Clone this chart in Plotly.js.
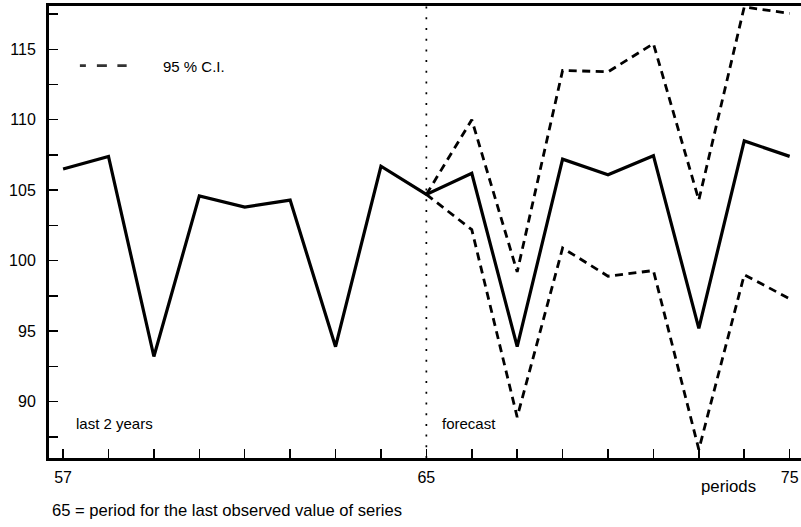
<!DOCTYPE html>
<html>
<head>
<meta charset="utf-8">
<script src="https://cdn.plot.ly/plotly-3.0.1.min.js"></script>
<style>
html,body{margin:0;padding:0;background:#fff;overflow:hidden;}
#wrap{position:relative;width:801px;height:527px;overflow:hidden;}
#chart{width:812px;height:527px;}
#edge{position:absolute;left:796px;top:12px;width:6px;height:443px;background:#fff;}
</style>
</head>
<body>
<div id="wrap"><div id="chart"></div><div id="edge"></div></div>
<script>
// Periods (index positions on the axis) and tick labels
const periods = [0,1,2,3,4,5,6,7,8,9,10,11,12,13,14,15,16];
const tickLabels = ['57','','','','','','','','65','','','','','','','','75'];
const forecastPeriods = [8,9,10,11,12,13,14,15,16];

// Observed (last 2 years) + point forecast
const series = [106.5,107.4,93.2,104.6,103.8,104.3,93.9,106.7,104.7,106.2,93.9,107.2,106.1,107.45,95.2,108.5,107.4];
// 95 % confidence interval bounds
const upperCI = [104.7,110.0,99.2,113.5,113.4,115.4,104.3,118.0,117.55];
const lowerCI = [104.7,102.2,88.9,100.9,98.9,99.3,86.6,99.0,97.3];

const lastObserved = 8;
const yTicks = [90,95,100,105,110,115];

const FONT = 'Liberation Sans, Arial, Helvetica, sans-serif';
const DASH = '8px,5.5px';

const traces = [
  {x: periods, y: series, type:'scatter', mode:'lines', name:'series',
   line:{color:'#000', width:3.2}, showlegend:false, hoverinfo:'skip'},
  {x: forecastPeriods, y: upperCI, type:'scatter', mode:'lines', name:'95 % C.I.',
   line:{color:'#000', width:2.8, dash:DASH}, showlegend:false, hoverinfo:'skip'},
  {x: forecastPeriods, y: lowerCI, type:'scatter', mode:'lines', name:'95 % C.I. lower',
   line:{color:'#000', width:2.8, dash:DASH}, showlegend:false, hoverinfo:'skip'}
];

const layout = {
  width:812, height:527,
  margin:{l:49, r:6, t:6, b:69},
  paper_bgcolor:'#fff', plot_bgcolor:'#fff',
  font:{family:FONT, color:'#000', size:16},
  showlegend:false,
  xaxis:{
    range:[-0.31, 16.36],
    tickvals: periods, ticktext: tickLabels,
    ticks:'inside', ticklen:9, tickwidth:1.5, tickcolor:'#000',
    ticklabelstandoff:3,
    showline:true, linewidth:3, linecolor:'#000', mirror:true,
    showgrid:false, zeroline:false,
    tickfont:{size:16, family:FONT}
  },
  yaxis:{
    range:[86.0, 118.07],
    tickvals: yTicks,
    ticks:'inside', ticklen:9, tickwidth:1.5, tickcolor:'#000',
    ticklabelstandoff:7,
    minor:{dtick:2.5, tick0:0, ticks:'inside', ticklen:9, tickwidth:1.5, tickcolor:'#000', showgrid:false},
    showline:true, linewidth:3, linecolor:'#000',
    showgrid:false, zeroline:false,
    tickfont:{size:16, family:FONT}
  },
  shapes:[
    {type:'line', xref:'x', yref:'paper', x0:lastObserved, x1:lastObserved, y0:0, y1:1,
     line:{color:'#000', width:1.7, dash:'2px,8.7px'}},
    {type:'line', xref:'x', yref:'paper', x0:0.37, x1:1.40, y0:0.868, y1:0.868,
     line:{color:'#333', width:2.8, dash:'6px,11px,10px,10.5px,10px,10px'}}
  ],
  annotations:[
    {text:'95 % C.I.', xref:'x', yref:'paper', x:2.16, y:0.866, xanchor:'left', yanchor:'middle',
     showarrow:false, font:{size:15}},
    {text:'last 2 years', xref:'x', yref:'paper', x:0.25, y:0.077, xanchor:'left', yanchor:'middle',
     showarrow:false, font:{size:15}},
    {text:'forecast', xref:'x', yref:'paper', x:8.3, y:0.077, xanchor:'left', yanchor:'middle',
     showarrow:false, font:{size:15}},
    {text:'periods', xref:'x', yref:'paper', x:14.66, y:-0.062, xanchor:'center', yanchor:'middle',
     showarrow:false, font:{size:16.8}},
    {text:'65 = period for the last observed value of series', xref:'paper', yref:'paper', x:0.0, y:-0.117,
     xanchor:'left', yanchor:'middle', xshift:1, showarrow:false, font:{size:16.6}}
  ]
};

Plotly.newPlot('chart', traces, layout, {displayModeBar:false, staticPlot:true});
</script>
</body>
</html>
